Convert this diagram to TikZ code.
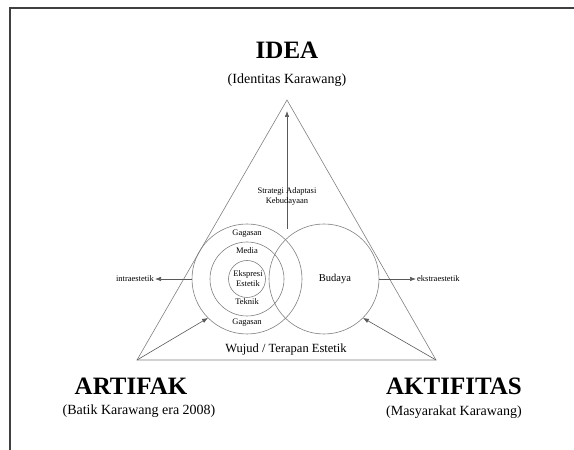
\documentclass[tikz,border=0pt]{standalone}
\usepackage{fontspec}
\setmainfont{Liberation Serif}
\usetikzlibrary{arrows.meta}

\begin{document}
\begin{tikzpicture}[x=1pt,y=1pt,
    edge/.style={draw=black!50, line width=0.6pt},
    pointer/.style={draw=black!65, line width=0.6pt, -{Latex[length=6pt,width=4.5pt]}},
    small/.style={font=\fontsize{8.5}{10}\selectfont, align=center, inner sep=1pt},
    title/.style={font=\fontsize{25}{28}\selectfont\bfseries, inner sep=0pt},
    caption/.style={font=\fontsize{14}{16}\selectfont, inner sep=0pt}]

    \useasboundingbox (0,0) rectangle (574,450);

    % Radii of the nested circles (left) and of the Budaya circle
    \def\rOut{55}
    \def\rMid{37}
    \def\rIn{18.5}

    % 1. Page frame (top and left edge only)
    \draw[black!75, line width=1.2pt] (10,0) -- (10,442) -- (574,442);

    % 2. Corners of the triangle
    \coordinate (I) at (287,350); % IDEA
    \coordinate (R) at (137,90);  % ARTIFAK
    \coordinate (K) at (436,90);  % AKTIFITAS

    % Centres of the two big circles
    \coordinate (L) at (247,171);
    \coordinate (B) at (324,171);

    \draw[edge] (I) -- (R) -- (K) -- cycle;

    % 3. Circles
    \draw[edge] (L) circle (\rOut);
    \draw[edge] (L) circle (\rMid);
    \draw[edge] (L) circle (\rIn);
    \draw[edge] (B) circle (\rOut);

    % 4. Arrows
    \coordinate (S) at (287,221);
    \draw[pointer] (S) -- ([yshift=-11pt]I);
    \draw[pointer] (R) -- ([shift={(225:\rOut)}]L);
    \draw[pointer] (K) -- ([shift={(-45:\rOut)}]B);

    \node[small, anchor=east] (intra) at (155,171) {intraestetik};
    \node[small, anchor=west] (ekstra) at (416,171) {ekstraestetik};
    \draw[pointer] ([shift={(180:\rOut)}]L) -- (intra);
    \draw[pointer] ([shift={(0:\rOut)}]B) -- (ekstra);

    % 5. Labels inside the triangle
    \node[small] (strategi) at (287,254) {Strategi Adaptasi\\Kebudayaan};
    \node[small] (gagasanA) at (247,216) {Gagasan};
    \node[small] (media) at (247,199) {Media};
    \node[small] (ekspresi) at (248,171) {Ekspresi\\Estetik};
    \node[small] (teknik) at (247,148) {Teknik};
    \node[small] (gagasanB) at (247,127) {Gagasan};
    \node[font=\fontsize{10.5}{12}\selectfont] (budaya) at (335,171) {Budaya};
    \node[font=\fontsize{12.5}{14}\selectfont] (wujud) at (286,101) {Wujud / Terapan Estetik};

    % 6. Titles at the corners
    \node[title] (idea) at (287,400) {IDEA};
    \node[caption] (ideaC) at (287,370) {(Identitas Karawang)};
    \node[title] (artifak) at (131,64) {ARTIFAK};
    \node[caption] (artifakC) at (139,39) {(Batik Karawang era 2008)};
    \node[title] (aktifitas) at (454,64) {AKTIFITAS};
    \node[caption] (aktifitasC) at (454,38) {(Masyarakat Karawang)};

\end{tikzpicture}
\end{document}
